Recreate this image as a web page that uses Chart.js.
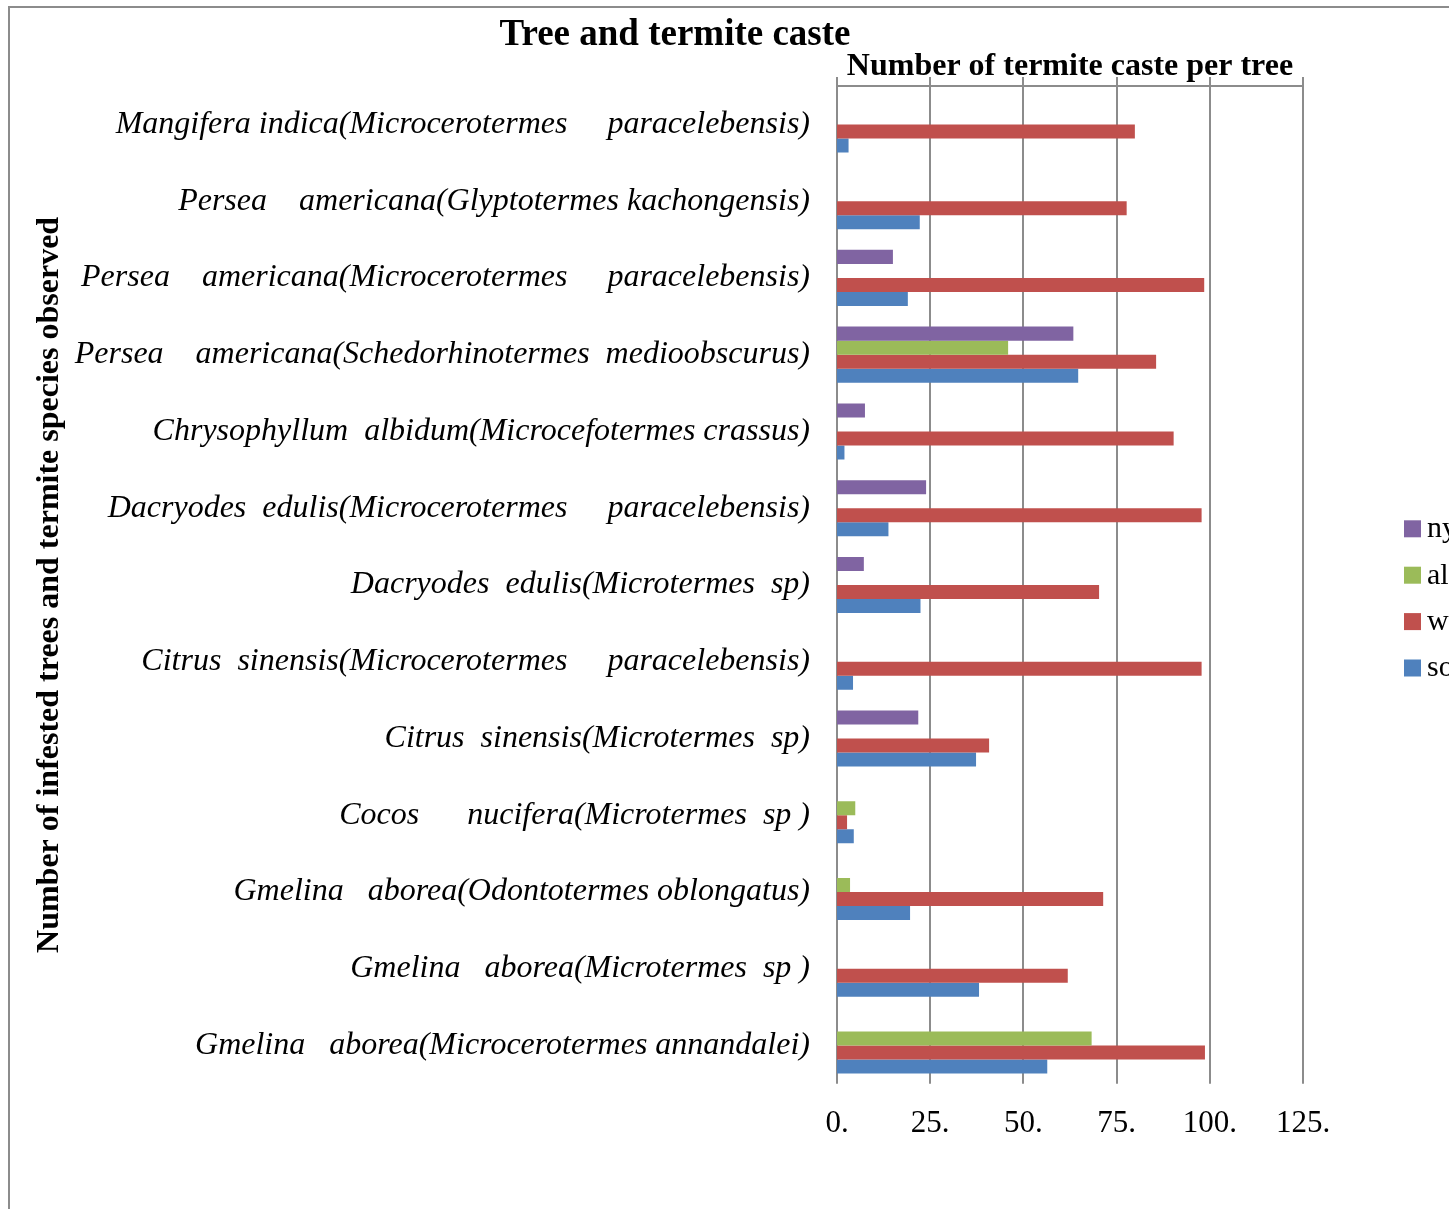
<!DOCTYPE html>
<html><head><meta charset="utf-8">
<script src="https://cdn.jsdelivr.net/npm/chart.js@4/dist/chart.umd.min.js"></script>
<style>
html,body{margin:0;padding:0;background:#fff;overflow:hidden;}
#wrap{position:relative;width:1449px;height:1209px;}
#frameTop{position:absolute;left:8px;top:6px;width:1441px;height:2px;background:#8c8c8c;}
#frameLeft{position:absolute;left:8px;top:6px;width:2px;height:1203px;background:#8c8c8c;}
canvas{position:absolute;left:0;top:0;}
</style></head>
<body><div id="wrap"><div id="frameTop"></div><div id="frameLeft"></div><canvas id="c" width="1449" height="1209" style="width:1449px;height:1209px"></canvas></div>
<script>
const chartTitle = 'Tree and termite caste';
const xAxisTitle = 'Number of termite caste per tree';
const yAxisTitle = 'Number of infested trees and termite species observed';
const categories = [
  'Mangifera indica(Microcerotermes     paracelebensis)',
  'Persea    americana(Glyptotermes kachongensis)',
  'Persea    americana(Microcerotermes     paracelebensis)',
  'Persea    americana(Schedorhinotermes  medioobscurus)',
  'Chrysophyllum  albidum(Microcefotermes crassus)',
  'Dacryodes  edulis(Microcerotermes     paracelebensis)',
  'Dacryodes  edulis(Microtermes  sp)',
  'Citrus  sinensis(Microcerotermes     paracelebensis)',
  'Citrus  sinensis(Microtermes  sp)',
  'Cocos      nucifera(Microtermes  sp )',
  'Gmelina   aborea(Odontotermes oblongatus)',
  'Gmelina   aborea(Microtermes  sp )',
  'Gmelina   aborea(Microcerotermes annandalei)'
];
const seriesNames = ['nymph', 'alate', 'worker', 'soldier'];
const nymph   = [null, null, 15, 63.4, 7.5, 23.9, 7.2, null, 21.8, null, null, null, null];
const alate   = [null, null, null, 45.9, null, null, null, null, null, 4.9, 3.5, null, 68.3];
const worker  = [79.9, 77.7, 98.5, 85.6, 90.3, 97.8, 70.3, 97.8, 40.8, 2.7, 71.4, 61.9, 98.7];
const soldier = [3.1, 22.2, 19, 64.7, 2, 13.8, 22.4, 4.3, 37.3, 4.5, 19.6, 38.1, 56.4];
const xTicks = [0, 25, 50, 75, 100, 125];
const colors = ['#8064A2', '#9BBB59', '#C0504D', '#4F81BD'];

const serif = '"Liberation Serif", "Times New Roman", serif';
const gridColor = '#8c8c8c';

const decor = {
  id: 'decor',
  afterDraw(chart) {
    const ctx = chart.ctx;
    const ca = chart.chartArea;
    ctx.save();
    ctx.fillStyle = '#000';
    ctx.font = 'bold 37px ' + serif;
    ctx.textAlign = 'center';
    ctx.textBaseline = 'middle';
    ctx.fillText(chartTitle, 675, 35);
    const midY = (ca.top + ca.bottom) / 2 + 13;
    chart.data.datasets.forEach((ds, i) => {
      const y = midY + (i - 1.5) * 46.4;
      ctx.fillStyle = ds.backgroundColor;
      ctx.fillRect(ca.right + 101, y - 8, 17, 17);
      ctx.fillStyle = '#000';
      ctx.font = '30px ' + serif;
      ctx.textAlign = 'left';
      ctx.textBaseline = 'middle';
      ctx.fillText(ds.label, ca.right + 124, y + 1);
    });
    ctx.restore();
  }
};

const values = [nymph, alate, worker, soldier];
new Chart(document.getElementById('c'), {
  type: 'bar',
  data: {
    labels: categories,
    datasets: seriesNames.map((n, i) => ({
      label: n,
      data: values[i],
      backgroundColor: colors[i],
      borderWidth: 0,
      xAxisID: 'x',
      yAxisID: 'y',
      categoryPercentage: 0.73,
      barPercentage: 1.0
    }))
  },
  options: {
    indexAxis: 'y',
    responsive: false,
    animation: false,
    devicePixelRatio: 1,
    layout: { padding: { left: 20, right: 146, top: 45, bottom: 45 } },
    plugins: { legend: { display: false }, title: { display: false }, tooltip: { enabled: false } },
    scales: {
      y: {
        type: 'category',
        position: 'left',
        grid: { display: false, drawTicks: false },
        border: { display: false },
        ticks: { font: { family: serif, style: 'italic', size: 32 }, color: '#000', padding: 27, autoSkip: false },
        title: { display: true, text: yAxisTitle, color: '#000', font: { family: serif, weight: 'bold', size: 32 }, padding: { top: 11, bottom: 0 } },
        afterFit(s) { s.width = 817; }
      },
      x: {
        type: 'linear',
        position: 'bottom',
        min: 0, max: 125,
        afterBuildTicks(s) { s.ticks = xTicks.map(v => ({ value: v })); },
        grid: { display: false, drawTicks: false },
        border: { display: false },
        ticks: { font: { family: serif, size: 31 }, color: '#000', padding: 21.5, callback: v => v + '.' }
      },
      x2: {
        type: 'linear',
        position: 'top',
        min: 0, max: 125,
        afterBuildTicks(s) { s.ticks = xTicks.map(v => ({ value: v })); },
        grid: { display: true, color: gridColor, lineWidth: 2, tickLength: 9, drawTicks: true },
        border: { display: true, color: gridColor, width: 2 },
        ticks: { display: false },
        title: { display: true, text: xAxisTitle, color: '#000', font: { family: serif, weight: 'bold', size: 32, lineHeight: 1 }, padding: { top: 6, bottom: -6 } }
      }
    }
  },
  plugins: [decor]
});
</script>
</body></html>
